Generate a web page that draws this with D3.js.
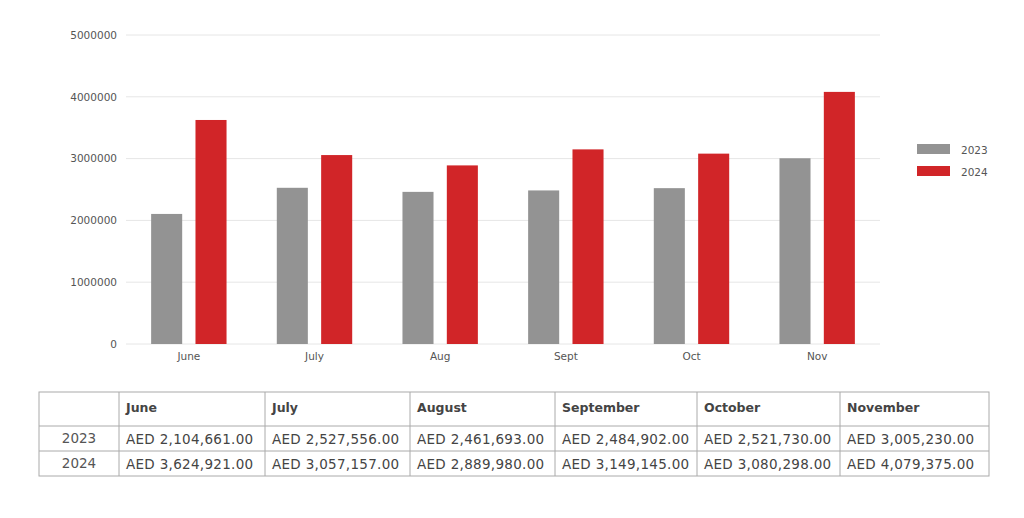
<!DOCTYPE html>
<html><head><meta charset="utf-8">
<script src="https://cdn.jsdelivr.net/npm/d3@7"></script>
<style>
html,body{margin:0;padding:0;background:#fff;}
svg text{font-family:"DejaVu Sans","Open Sans",sans-serif;}
</style></head>
<body><svg id="c" width="1024" height="518"></svg>
<script>
const categories = ["June","July","Aug","Sept","Oct","Nov"];
const fullMonths = ["June","July","August","September","October","November"];
const seriesNames = ["2023","2024"];
const values2023 = [2104661,2527556,2461693,2484902,2521730,3005230];
const values2024 = [3624921,3057157,2889980,3149145,3080298,4079375];
const yTicks = [0,1000000,2000000,3000000,4000000,5000000];
const colors = ["#939393","#d12528"];

const svg = d3.select("#c");
const x0 = d3.scaleBand().domain(categories).range([126,880]).paddingInner(0.4).paddingOuter(0.2);
const x1 = d3.scaleBand().domain(seriesNames).range([0,x0.bandwidth()]).paddingInner(0.3);
const y = d3.scaleLinear().domain([0,5000000]).range([344,35]);

// grid
svg.append("g").selectAll("line").data(yTicks).join("line")
  .attr("x1",126).attr("x2",880).attr("y1",d=>y(d)).attr("y2",d=>y(d))
  .attr("stroke","#e6e6e6").attr("stroke-width",1);

const yAxis = svg.append("g").attr("transform","translate(126,0)")
  .call(d3.axisLeft(y).tickValues(yTicks).tickFormat(d=>String(d)).tickSize(0).tickPadding(9));
yAxis.select(".domain").remove();
yAxis.selectAll("text").attr("fill","#555").style("font-size","10.5px");

const xAxis = svg.append("g").attr("transform","translate(0,344)")
  .call(d3.axisBottom(x0).tickSize(0).tickPadding(9));
xAxis.select(".domain").remove();
xAxis.selectAll("text").attr("fill","#555").style("font-size","10.5px");

const series = [values2023, values2024];
categories.forEach((c,i)=>{
  svg.append("g").selectAll("rect").data(seriesNames.map((s,j)=>({s,v:series[j][i],j}))).join("rect")
    .attr("x",d=>x0(c)+x1(d.s)).attr("width",x1.bandwidth())
    .attr("y",d=>y(d.v)).attr("height",d=>y(0)-y(d.v))
    .attr("fill",d=>colors[d.j]);
});

// legend
const lg = svg.append("g");
seriesNames.forEach((s,j)=>{
  lg.append("rect").attr("x",917).attr("y",144+j*22).attr("width",33).attr("height",10).attr("fill",colors[j]);
  lg.append("text").attr("x",961).attr("y",150+j*22).attr("dy","0.35em").attr("fill","#555").style("font-size","10.5px").text(s);
});

// table
const colX = [39,119,265,410,555,697,840,989];
const rowY = [392,426,451,476];
const tb = svg.append("g");
tb.append("rect").attr("x",colX[0]).attr("y",rowY[0]).attr("width",colX[7]-colX[0]).attr("height",rowY[3]-rowY[0])
  .attr("fill","none").attr("stroke","#aaa");
colX.slice(1,7).forEach(xv=>tb.append("line").attr("x1",xv).attr("x2",xv).attr("y1",rowY[0]).attr("y2",rowY[3]).attr("stroke","#aaa"));
rowY.slice(1,3).forEach(yv=>tb.append("line").attr("x1",colX[0]).attr("x2",colX[7]).attr("y1",yv).attr("y2",yv).attr("stroke","#aaa"));
const fmt = d3.format(",.2f");
fullMonths.forEach((m,i)=>{
  tb.append("text").attr("x",colX[i+1]+7).attr("y",(rowY[0]+rowY[1])/2-1).attr("dy","0.35em")
    .attr("fill","#444").style("font-size","12.5px").style("font-weight","bold").text(m);
  series.forEach((vals,j)=>{
    tb.append("text").attr("x",colX[i+1]+7).attr("y",(rowY[j+1]+rowY[j+2])/2+1).attr("dy","0.35em")
      .attr("fill","#444").style("font-size","13.5px").style("letter-spacing","0.3px").text("AED "+fmt(vals[i]));
  });
});
seriesNames.forEach((s,j)=>{
  tb.append("text").attr("x",(colX[0]+colX[1])/2).attr("y",(rowY[j+1]+rowY[j+2])/2).attr("dy","0.35em")
    .attr("text-anchor","middle").attr("fill","#555").style("font-size","13.5px").text(s);
});
</script></body></html>
